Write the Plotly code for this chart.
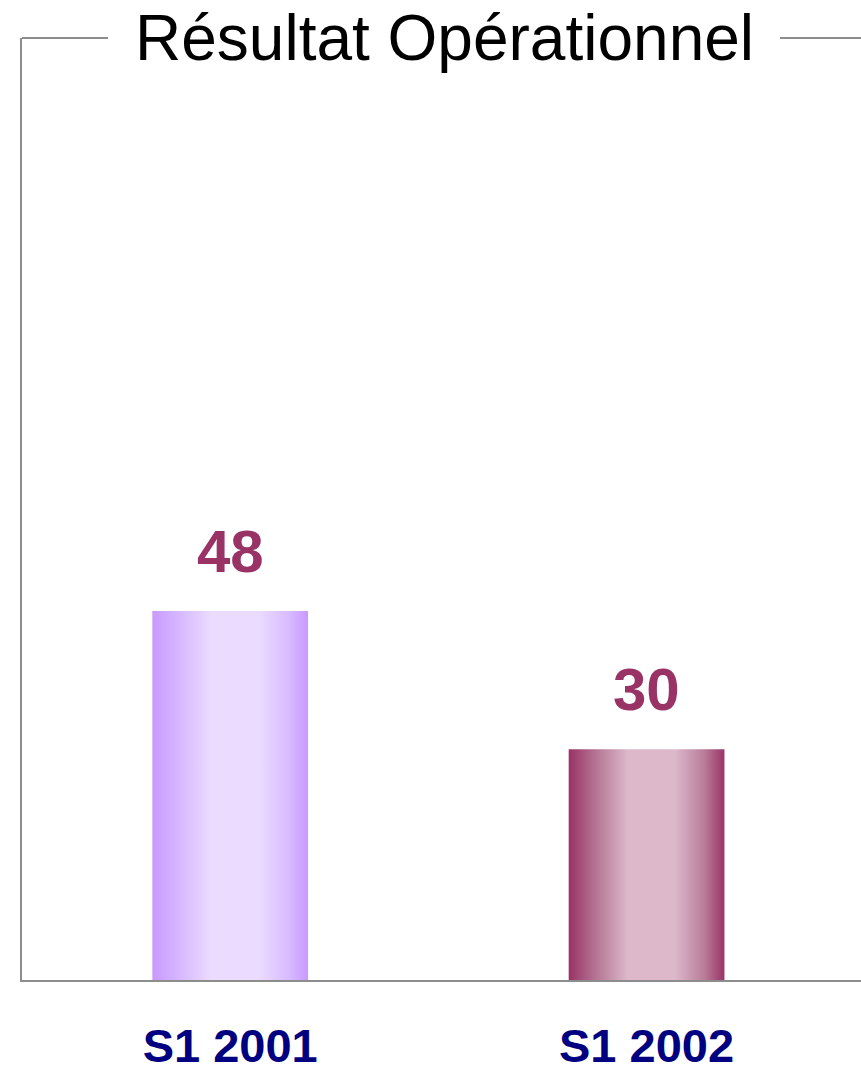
import plotly.graph_objects as go

categories = ["S1 2001", "S1 2002"]
values = [48, 30]
edge_colors = ["#C999FF", "#993366"]
center_colors = ["#EBDCFF", "#DDB8CB"]
mid_colors = ["#D9BCFF", "#B97D9A"]
title_text = "Résultat Opérationnel"

bar_half = 0.187
positions = list(range(len(categories)))

fig = go.Figure()
for pos, val, ec, cc, mc in zip(positions, values, edge_colors, center_colors, mid_colors):
    fig.add_trace(go.Scatter(
        x=[pos - bar_half, pos + bar_half, pos + bar_half, pos - bar_half, pos - bar_half],
        y=[0, 0, val, val, 0],
        mode="lines",
        line=dict(width=0),
        fill="toself",
        fillgradient=dict(
            type="horizontal",
            colorscale=[[0, ec], [0.2, mc], [0.38, cc], [0.68, cc], [0.87, mc], [1, ec]],
        ),
        hoverinfo="skip",
        showlegend=False,
    ))

for pos, val in zip(positions, values):
    fig.add_annotation(
        x=pos, y=val, text=str(val), showarrow=False,
        yanchor="bottom", yshift=24,
        font=dict(family="Liberation Sans, Arial", size=60, color="#993366", weight="bold"),
    )

gray = "#8C8C8C"
fig.add_annotation(
    x=0.503, xref="paper", y=1, yref="paper", text=title_text, showarrow=False,
    yanchor="middle", xanchor="center",
    font=dict(family="Liberation Sans, Arial", size=64, color="#000000"),
)
fig.add_shape(type="line", xref="paper", yref="paper", x0=0, x1=0.1025, y0=1, y1=1,
              line=dict(color=gray, width=2))
fig.add_shape(type="line", xref="paper", yref="paper", x0=0.9035, x1=1.0, y0=1, y1=1,
              line=dict(color=gray, width=2))

fig.update_layout(
    width=861, height=1069,
    margin=dict(l=22, r=0, t=38, b=89),
    paper_bgcolor="white", plot_bgcolor="white",
    xaxis=dict(
        range=[-0.5, 1.515], tickvals=positions, ticktext=categories,
        showgrid=False, zeroline=False, showline=True, linecolor=gray, linewidth=2,
        ticks="", ticklabelstandoff=24, automargin=False,
        tickfont=dict(family="Liberation Sans, Arial", size=47, color="#000080", weight="bold"),
    ),
    yaxis=dict(
        range=[0, 122.5], showgrid=False, zeroline=False, showticklabels=False,
        showline=True, linecolor=gray, linewidth=2, ticks="", automargin=False,
    ),
)

fig.write_html("out.html")
